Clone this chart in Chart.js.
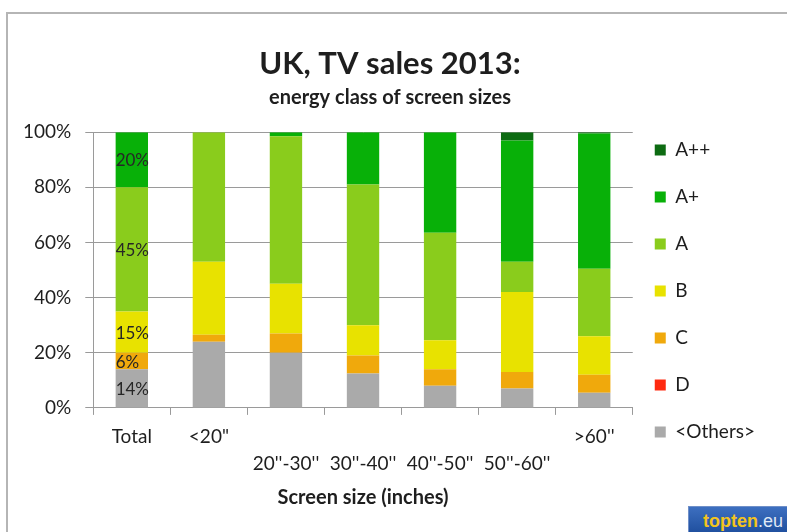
<!DOCTYPE html>
<html>
<head>
<meta charset="utf-8">
<script src="https://cdn.jsdelivr.net/npm/chart.js@4.4.1/dist/chart.umd.min.js"></script>
<style>
  html, body { margin: 0; padding: 0; background: #fff; }
  #wrap { position: relative; width: 787px; height: 532px; overflow: hidden; }
  #frame { position: absolute; left: 6px; top: 12px; width: 800px; height: 540px;
           border-left: 2px solid #b5b5b5; border-top: 2px solid #b5b5b5; }
  #logo { position: absolute; left: 688px; top: 506px; width: 110px; height: 28px;
          background: linear-gradient(#3d6fc0, #1f4f9e); border: 1px solid #6f8fc8;
          font-family: "Liberation Sans Narrow", "Liberation Sans", sans-serif; font-weight: bold;
          font-size: 18px; line-height: 28px; padding-left: 14px; box-sizing: border-box; }
  #logo .a { color: #f3c41c; }
  #logo .b { color: #dfe8f6; font-weight: normal; }
  canvas { position: absolute; left: 0; top: 0; }
</style>
</head>
<body>
<div id="wrap">
  <div id="frame"></div>
  <canvas id="chart" width="787" height="532"></canvas>
  <div id="logo"><span class="a">topten</span><span class="b">.eu</span></div>
</div>
<script>
// screen size categories (second-row labels start with an empty line)
const categories = [['Total'], ['<20"'], ['', "20''-30''"], ['', "30''-40''"], ['', "40''-50''"], ['', "50''-60''"], [">60''"]];

// share of sales in %, per energy class
const others = [14, 24, 20, 12.5, 8, 7, 5.5];
const classD = [0, 0, 0, 0, 0, 0, 0];
const classC = [6, 2.5, 7, 6.5, 6, 6, 6.5];
const classB = [15, 26.5, 18, 11, 10.5, 29, 14];
const classA = [45, 47, 53.5, 51, 39, 11, 24.5];
const classAplus = [20, 0, 1.5, 19, 36.5, 44, 49];
const classAplusplus = [0, 0, 0, 0, 0, 3, 0.5];

// labels printed on the Total bar
const totalLabels = { 'A+': '20%', 'A': '45%', 'B': '15%', 'C': '6%', '<Others>': '14%' };

const yTicks = [0, 20, 40, 60, 80, 100];

const font = 'Lato, "Open Sans", sans-serif';
const ink = '#1e1e1e';

const totalLabelPlugin = {
    id: 'totalLabels',
    afterDatasetsDraw(chart) {
        const ctx = chart.ctx;
        ctx.save();
        ctx.font = '17px ' + font;
        ctx.fillStyle = '#262626';
        ctx.textAlign = 'left';
        ctx.textBaseline = 'middle';
        chart.data.datasets.forEach((ds, i) => {
            const txt = totalLabels[ds.label];
            if (!txt) return;
            const bar = chart.getDatasetMeta(i).data[0];
            ctx.fillText(txt, bar.x - bar.width / 2, (bar.y + bar.base) / 2 + 1);
        });
        ctx.restore();
    }
};

// nudge the legend a little closer to the plot
const legendShift = {
    id: 'legendShift',
    afterLayout(chart) {
        chart.legend.left -= 6;
        chart.legend.right -= 6;
    }
};

new Chart(document.getElementById('chart'), {
    type: 'bar',
    data: {
        labels: categories,
        datasets: [
            { label: '<Others>', data: others, backgroundColor: '#aaaaaa' },
            { label: 'D', data: classD, backgroundColor: '#ff2a10' },
            { label: 'C', data: classC, backgroundColor: '#f0a90c' },
            { label: 'B', data: classB, backgroundColor: '#e8e200' },
            { label: 'A', data: classA, backgroundColor: '#8acc1c' },
            { label: 'A+', data: classAplus, backgroundColor: '#08b008' },
            { label: 'A++', data: classAplusplus, backgroundColor: '#0d6b12' }
        ]
    },
    options: {
        responsive: false,
        animation: false,
        events: [],
        layout: { padding: { left: 9, right: 16, top: 45, bottom: 18 } },
        datasets: { bar: { categoryPercentage: 1, barPercentage: 0.42 } },
        scales: {
            x: {
                stacked: true,
                grid: { drawOnChartArea: false, color: '#9a9a9a', tickLength: 7, offset: true },
                border: { color: '#9a9a9a' },
                ticks: { color: ink, font: { family: font, size: 19, lineHeight: 1.45 }, maxRotation: 0, autoSkip: false, padding: 8 },
                title: { display: true, text: 'Screen size (inches)', color: ink,
                         font: { family: font, size: 20, weight: 'bold' }, padding: { top: 0 } }
            },
            y: {
                stacked: true,
                min: 0, max: 100,
                afterBuildTicks: axis => { axis.ticks = yTicks.map(v => ({ value: v })); },
                grid: { color: '#9a9a9a', tickLength: 8 },
                border: { color: '#9a9a9a' },
                ticks: { color: ink, font: { family: font, size: 19 }, padding: 14, callback: v => v + '%' }
            }
        },
        plugins: {
            title: { display: true, text: 'UK, TV sales 2013:', color: ink,
                     font: { family: font, size: 31 }, padding: { top: 0, bottom: 3 } },
            subtitle: { display: true, text: 'energy class of screen sizes', color: ink,
                        font: { family: font, size: 20, weight: 'bold' }, padding: { bottom: 23 } },
            legend: {
                position: 'right',
                align: 'start',
                reverse: true,
                title: { display: true, text: ' ', font: { size: 12 }, padding: { top: 0, bottom: 53 } },
                labels: { color: ink, font: { family: font, size: 19 }, boxWidth: 11, boxHeight: 11, padding: 28 }
            },
            tooltip: { enabled: false }
        }
    },
    plugins: [totalLabelPlugin, legendShift]
});
</script>
</body>
</html>
